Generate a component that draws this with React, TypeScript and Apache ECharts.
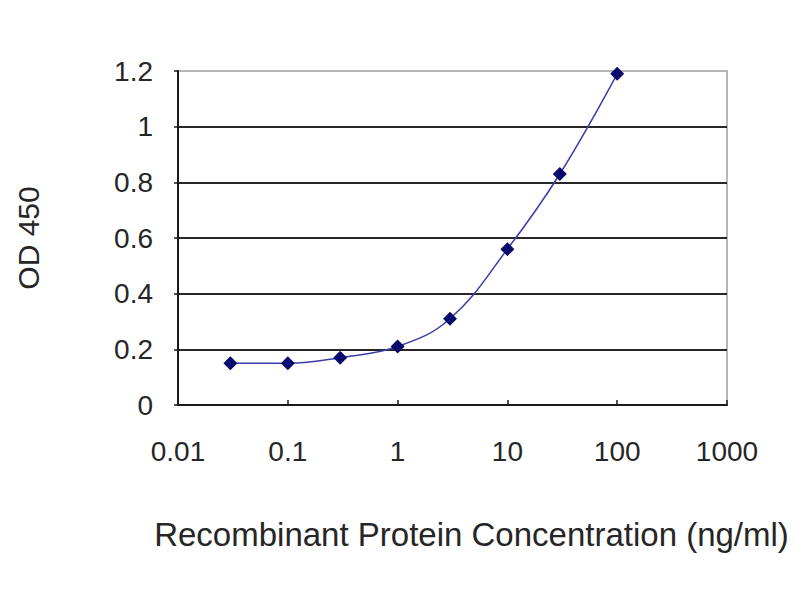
import React, { useEffect, useRef } from "react";
import * as echarts from "echarts";

// concentration (ng/ml) and OD 450 readings
const concentrations = [0.03, 0.1, 0.3, 1, 3, 10, 30, 100];
const odValues = [0.15, 0.15, 0.17, 0.21, 0.31, 0.56, 0.83, 1.19];

const xName = "Recombinant Protein Concentration (ng/ml)";
const yName = "OD 450";

const FONT = "'Liberation Sans', Arial, sans-serif";
const TEXT = "#262626";

const App: React.FC = () => {
  const chartRef = useRef<HTMLDivElement>(null);

  useEffect(() => {
    if (!chartRef.current) return;
    const chart = echarts.init(chartRef.current, undefined, { renderer: "svg" });

    const option: echarts.EChartsOption = {
      animation: false,
      backgroundColor: "#ffffff",
      // body has an 8px margin, so grid offsets are page coords minus 8
      grid: {
        left: 170,
        right: 65,
        top: 63,
        bottom: 187,
        show: true,
        borderColor: "#a0a0a0",
        borderWidth: 1.5,
        outerBoundsMode: "none",
      } as any,
      xAxis: {
        type: "log",
        logBase: 10,
        min: 0.01,
        max: 1000,
        name: xName,
        nameLocation: "middle",
        nameGap: 113,
        nameTextStyle: {
          fontFamily: FONT,
          fontSize: 33,
          color: TEXT,
          verticalAlign: "top",
          padding: [0, 0, 0, 38],
        },
        axisLine: { lineStyle: { color: "#1a1a1a", width: 2 } },
        axisTick: { inside: true, length: 5, lineStyle: { color: "#1a1a1a", width: 1.5 } },
        axisLabel: {
          fontFamily: FONT,
          fontSize: 28,
          color: TEXT,
          margin: 32,
          formatter: (v: number) => String(v),
        },
        splitLine: { show: false },
        minorTick: { show: false },
      },
      yAxis: {
        type: "value",
        min: 0,
        max: 1.2,
        interval: 0.2,
        name: yName,
        nameLocation: "middle",
        nameRotate: 90,
        nameGap: 135,
        nameTextStyle: {
          fontFamily: FONT,
          fontSize: 30,
          color: TEXT,
        },
        axisLine: { show: true, lineStyle: { color: "#1a1a1a", width: 2 } },
        axisTick: { show: true, length: 4, lineStyle: { color: "#1a1a1a", width: 1.5 } },
        axisLabel: {
          fontFamily: FONT,
          fontSize: 28,
          color: TEXT,
          margin: 25,
        },
        splitLine: {
          show: true,
          showMinLine: false,
          showMaxLine: false,
          lineStyle: { color: "#262626", width: 2 },
        },
      },
      series: [
        {
          type: "line",
          data: concentrations.map((c, i) => [c, odValues[i]]),
          smooth: 0.4,
          symbol: "diamond",
          symbolSize: 14,
          itemStyle: { color: "#0a0a6e" },
          lineStyle: { color: "#3c3ca8", width: 1.5 },
        },
      ],
    };

    chart.setOption(option);
    return () => {
      chart.dispose();
    };
  }, []);

  return <div ref={chartRef} style={{ width: "784px", height: "584px" }} />;
};

export default App;
